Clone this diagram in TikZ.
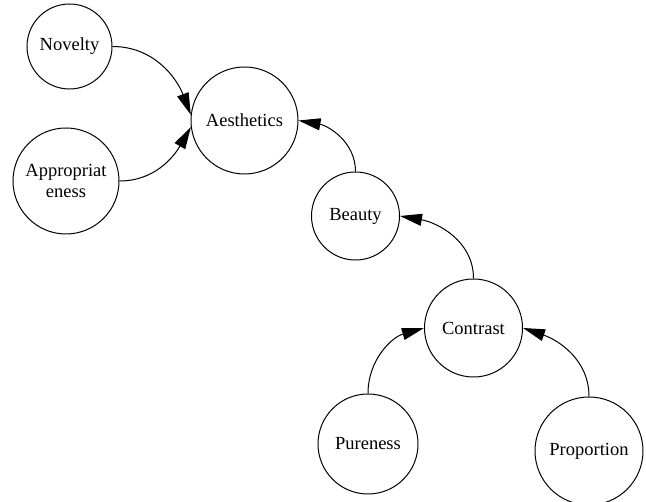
\documentclass[tikz,border=0pt]{standalone}
\usepackage{fontspec}
\setmainfont{Liberation Serif}
\usetikzlibrary{arrows.meta}
\begin{document}
\begin{tikzpicture}[x=1pt,y=1pt,
  nd/.style={circle, draw, line width=1pt, inner sep=0pt, align=center,
    font=\fontsize{18.5}{21}\selectfont},
  arr/.style={-{Triangle[length=22pt,width=12pt]}, line width=1pt}]
\useasboundingbox (0,0) rectangle (646,502);
\node[nd, minimum size=85pt]  (nov) at (69.5,455.5) {Novelty};
\node[nd, minimum size=106pt] (app) at (66,321) {Appropriat\\eness};
\node[nd, minimum size=107pt] (aes) at (244.5,381.5) {Aesthetics};
\node[nd, minimum size=88pt]  (bea) at (355.5,286) {Beauty};
\node[nd, minimum size=98pt]  (con) at (473.5,174) {Contrast};
\node[nd, minimum size=100pt] (pur) at (368,58) {Pureness};
\node[nd, minimum size=108pt] (pro) at (589,51) {Proportion};
\draw[arr] (nov.east) to[out=0,in=111] (aes.174);
\draw[arr] (app.east) to[out=0,in=240] (aes.187);
\draw[arr] (bea.north) to[out=90,in=-10] (aes.east);
\draw[arr] (con.north) to[out=90,in=-10] (bea.east);
\draw[arr] (pur.north) to[out=90,in=196] (con.west);
\draw[arr] (pro.north) to[out=90,in=-19] (con.east);
\end{tikzpicture}
\end{document}
